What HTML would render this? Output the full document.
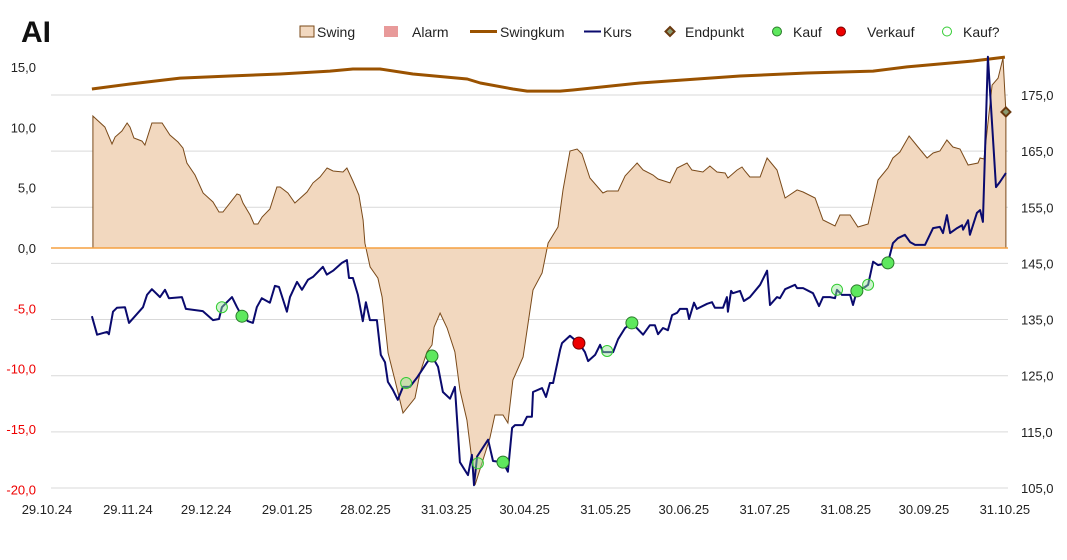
<!DOCTYPE html>
<html><head><meta charset="utf-8"><style>
body{margin:0;background:#fff;font-family:"Liberation Sans",sans-serif}
svg text{font-family:"Liberation Sans",sans-serif}
</style></head><body>
<svg id="c" width="1067" height="555" xmlns="http://www.w3.org/2000/svg">
<text x="21" y="42" font-size="30" font-weight="bold" fill="#111">AI</text>
<g id="legend" font-size="14" fill="#222">
<g><rect x="300" y="26" width="14" height="11" fill="#f2d8bf" stroke="#7a4a1a"/><text x="317" y="37">Swing</text></g>
<g><rect x="384" y="26" width="14" height="11" fill="#e89a9a"/><text x="412" y="37">Alarm</text></g>
<g><line x1="470" y1="31.5" x2="497" y2="31.5" stroke="#9a5200" stroke-width="3"/><text x="500" y="37">Swingkum</text></g>
<g><line x1="584" y1="31.5" x2="601" y2="31.5" stroke="#0a0a6e" stroke-width="2"/><text x="603" y="37">Kurs</text></g>
<g><path d="M670 27 L674.5 31.5 L670 36 L665.5 31.5Z" fill="#8a9a70" stroke="#6b3a10" stroke-width="2"/><text x="685" y="37">Endpunkt</text></g>
<g><circle cx="777" cy="31.5" r="4.5" fill="#5ee85e" stroke="#2a7a2a"/><text x="793" y="37">Kauf</text></g>
<g><circle cx="841" cy="31.5" r="4.5" fill="#e00" stroke="#700"/><text x="867" y="37">Verkauf</text></g>
<g><circle cx="947" cy="31.5" r="4.5" fill="#fff" stroke="#3c3"/><text x="963" y="37">Kauf?</text></g>
</g>
<g id="grid"></g><g id="area"></g><g id="lines"></g><g id="marks"></g><g id="axes" font-size="13"></g>
</svg>
<script>
const swingDays=[17.6,18.4,22.2,24.9,26.1,28.7,30.7,31.8,33.3,36.4,37.5,40.2,44.1,47.1,50.2,52.1,53.6,56.7,59.8,63.6,65.9,67.4,72.8,73.9,75.1,77.8,79.3,80.8,82.4,85.4,88.1,89.3,92.3,95,99.6,101.9,104.6,107.3,109.6,113.4,114.9,117.2,119.5,121.1,121.8,123.8,126.8,128.4,130.7,133.3,136.4,141,142.9,145.6,147.5,148.3,150.6,153.3,156.3,158.2,160.9,164,169.7,171.6,174.7,176.6,178.5,182.4,186.2,189.7,192,195.8,197.7,200.4,203.1,205,208,213,214.6,218.8,221.5,226.1,228.4,232.2,234.1,238.7,241.4,245.2,247.1,251.3,254,256.7,259.8,260.9,264.4,266.3,267.4,269.3,273.2,275.9,279.7,282.8,287.4,289.7,294.3,297.3,301.9,303.8,307.7,310.7,314.6,318.4,322.2,324.1,326.8,330.3,333.7,337.2,339.5,342.1,344.8,347.1,349.8,352.9,356.7,357.5,359,362.1,364.4,366.3,367.4];
const swingVals=[10.94,10.77,10.02,8.62,9.2,9.69,10.36,10.02,9.11,8.86,8.53,10.36,10.36,9.36,8.78,8.28,7.04,6.05,4.56,3.81,2.98,2.98,4.47,4.39,3.73,2.73,1.99,1.99,2.57,3.23,5.05,5.05,4.56,3.73,4.64,5.39,5.88,6.63,6.38,6.3,6.63,5.55,4.39,2.32,0.41,-1.57,-2.49,-4.06,-8.7,-10.94,-13.67,-12.43,-10.36,-8.62,-8.04,-6.55,-5.39,-6.63,-8.62,-11.76,-14.25,-19.64,-15.74,-13.84,-13.84,-14.5,-10.94,-9.03,-3.48,-2.07,0.41,1.74,4.81,8.04,8.2,7.79,5.8,4.56,4.72,4.72,5.97,7.04,6.46,6.05,5.72,5.39,6.63,7.04,6.46,6.3,6.79,6.3,6.21,5.8,6.46,6.71,6.38,5.88,5.88,7.46,6.46,4.14,4.81,4.64,4.14,2.32,1.82,2.73,2.73,1.74,1.99,5.63,6.63,7.46,7.95,9.28,8.37,7.46,7.87,8.04,8.95,8.37,8.2,6.88,7.04,7.46,7.37,13.5,14.08,15.74,11.27];
const kumDays=[17.2,31.8,51,70,89.3,108.4,117.2,127.6,140.2,161,166,178.5,184,196.6,201.5,227.2,265.5,291.2,316.5,329.5,354.8,367];
const kumVals=[13.17,13.59,14.08,14.25,14.42,14.66,14.83,14.83,14.42,14.0,13.67,13.17,13.0,13.0,13.09,13.67,14.25,14.5,14.66,15.0,15.49,15.82];
const kursDays=[17.2,19.2,23,23.7,25.3,26.8,29.9,31.4,36.8,38.3,40.2,43.3,45.2,46.7,51.7,53.2,59.7,63.6,65.9,67,70.9,72.8,74.7,77,78.9,80.4,82.3,85.4,87.3,88.9,91.9,93.1,95.8,97.7,100,101.9,105.7,107.2,109.6,113,114.9,115.7,117.2,119.1,121,122.2,123.7,126.4,127.9,129.5,130.6,132.5,134.4,136.4,139,141.7,145.5,147.5,149.8,151.7,154.4,156.3,158.2,161.3,162.8,163.6,164.8,169,170.9,174.7,176.6,178.2,179.3,182.3,183.9,185.8,186.2,189.7,191.2,192.7,193.9,196.6,197.3,200.4,203.8,206.1,207.3,210,211.9,213,216.9,218.8,221.5,224.1,228.4,231,232.9,234.1,236,237.9,239.5,241.4,242.5,245.2,246,247.9,249,252.9,254.8,255.9,259,260.5,260.9,262.1,262.8,265.5,267,269.3,273.2,275.9,277,279.7,280.8,282.8,286.6,287.4,289.7,293.5,295.8,297.3,300,301.9,302.7,304.6,307.7,308.8,310.3,313.4,314.6,316.5,318.4,322.2,324.1,326,328.7,330.7,332.6,336.4,339.5,342.1,343.3,344.8,346,348.7,350.6,351,352.9,353.6,356.3,357.5,358.6,360.5,363.6,365.1,367.4];
const kursVals=[135.6,132.3,132.8,132.4,136.4,137.1,137.2,134.4,137.2,139.4,140.4,139.0,140.3,138.8,139.0,136.9,136.5,134.9,135.1,137.2,139.0,137.2,135.6,134.7,134.4,137.2,138.8,138.0,141.0,140.8,136.4,139.0,141.7,140.3,142.1,142.6,144.4,143.0,143.7,145.1,145.6,142.4,142.4,139.4,134.7,138.1,134.9,134.9,128.7,127.4,123.9,122.5,120.7,123.0,123.0,124.6,127.3,128.5,126.6,122.1,120.9,123.0,109.6,107.3,110.9,105.5,110.6,113.6,109.8,109.6,107.9,115.7,116.2,116.2,117.7,117.7,122.1,122.8,121.2,123.7,123.7,129.6,130.8,132.1,130.8,129.2,127.6,128.7,130.5,129.2,129.2,131.5,133.5,134.4,132.3,134.0,134.0,132.4,133.5,133.1,135.8,136.2,136.9,136.9,135.1,138.0,136.9,137.8,138.1,137.1,137.1,139.0,136.4,140.1,139.7,140.1,138.3,139.0,141.2,143.7,137.6,139.0,138.8,140.4,141.2,140.6,140.6,139.7,137.4,139.0,139.0,138.8,140.3,139.4,139.4,137.6,140.1,140.8,141.2,145.3,144.7,145.1,148.6,149.5,150.1,148.8,148.3,148.3,151.3,151.5,150.4,153.6,150.4,151.3,151.8,151.0,152.7,150.1,154.0,154.5,152.4,181.8,158.6,159.5,161.1];
const kaufDays=[74.7,147.5,174.7,224.1,310.3,322.2];
const kaufVals=[135.6,128.5,109.6,134.4,140.1,145.1];
const verkaufDays=[203.8];
const verkaufVals=[130.8];
const kaufQDays=[67,137.6,165.1,214.6,302.7,314.6];
const kaufQVals=[137.2,123.7,109.4,129.4,140.3,141.2];
const endDays=[367.4];
const endVals=[11.27];
const leftTicks=[15,10,5,0,-5,-10,-15,-20];
const leftTickLabels=["15,0","10,0","5,0","0,0","-5,0","-10,0","-15,0","-20,0"];
const rightTicks=[175,165,155,145,135,125,115,105];
const rightTickLabels=["175,0","165,0","155,0","145,0","135,0","125,0","115,0","105,0"];
const xTickDays=[0,31,61,92,122,153,183,214,244,275,306,336,367];
const xTickLabels=["29.10.24","29.11.24","29.12.24","29.01.25","28.02.25","31.03.25","30.04.25","31.05.25","30.06.25","31.07.25","31.08.25","30.09.25","31.10.25"];

const NS="http://www.w3.org/2000/svg";
const X=d=>47+d*2.61;
const YL=v=>248-v*12.07;
const YR=v=>95+(175-v)*5.614;
function mk(tag,attrs,parent){const e=document.createElementNS(NS,tag);for(const k in attrs)e.setAttribute(k,attrs[k]);document.getElementById(parent).appendChild(e);return e;}

rightTicks.forEach((t,i)=>{
  const g=mk('line',{x1:51,x2:1008,y1:YR(t),y2:YR(t),stroke:'#d9d9d9','stroke-width':1},'grid');
  
  
  const tx=mk('text',{x:1021,y:YR(t)+5,fill:'#222'},'axes');tx.textContent=rightTickLabels[i];
  
  
});
leftTicks.forEach((t,i)=>{
  const tx=mk('text',{x:36,y:YL(t)+5,'text-anchor':'end',fill:t<0?'#e00':'#222'},'axes');tx.textContent=leftTickLabels[i];
  
  
});
xTickDays.forEach((d,i)=>{
  const tx=mk('text',{x:X(d),y:514,'text-anchor':'middle',fill:'#222'},'axes');tx.textContent=xTickLabels[i];
  
  
});
// swing area
let p='M'+X(swingDays[0])+' '+YL(0);
swingDays.forEach((d,i)=>{p+=' L'+X(d).toFixed(1)+' '+YL(swingVals[i]).toFixed(1);});
p+=' L'+X(swingDays[swingDays.length-1]).toFixed(1)+' '+YL(0)+' Z';
const ar=mk('path',{d:p,fill:'#f2d8bf',stroke:'#7a4a1a','stroke-width':1},'area');


const zl=mk('line',{x1:51,x2:1008,y1:YL(0),y2:YL(0),stroke:'#f5a040','stroke-width':1.5},'area');


function line(ds,vs,yf,col,w,name){
  const pts=ds.map((d,i)=>X(d).toFixed(1)+','+yf(vs[i]).toFixed(1)).join(' ');
  const e=mk('polyline',{points:pts,fill:'none',stroke:col,'stroke-width':w,'stroke-linejoin':'round'},'lines');
  
  
}
line(kumDays,kumVals,YL,'#9a5200',3,'swingkum-line');
line(kursDays,kursVals,YR,'#0a0a6e',2,'kurs-line');
kaufQDays.forEach((d,i)=>{const c=mk('circle',{cx:X(d),cy:YR(kaufQVals[i]),r:5.5,fill:'rgba(150,230,150,0.45)',stroke:'#3c3','stroke-width':1},'marks');
  
  });
kaufDays.forEach((d,i)=>{const c=mk('circle',{cx:X(d),cy:YR(kaufVals[i]),r:6,fill:'#5ee85e',stroke:'#2a7a2a','stroke-width':1},'marks');
  
  });
verkaufDays.forEach((d,i)=>{const c=mk('circle',{cx:X(d),cy:YR(verkaufVals[i]),r:6,fill:'#e00',stroke:'#700','stroke-width':1},'marks');
  
  });
endDays.forEach((d,i)=>{const x=X(d),y=YL(endVals[i]);const c=mk('path',{d:`M${x} ${y-4.5} L${x+4.5} ${y} L${x} ${y+4.5} L${x-4.5} ${y}Z`,fill:'#8a9a70',stroke:'#6b3a10','stroke-width':2},'marks');
  
  });
</script>
</body></html>
